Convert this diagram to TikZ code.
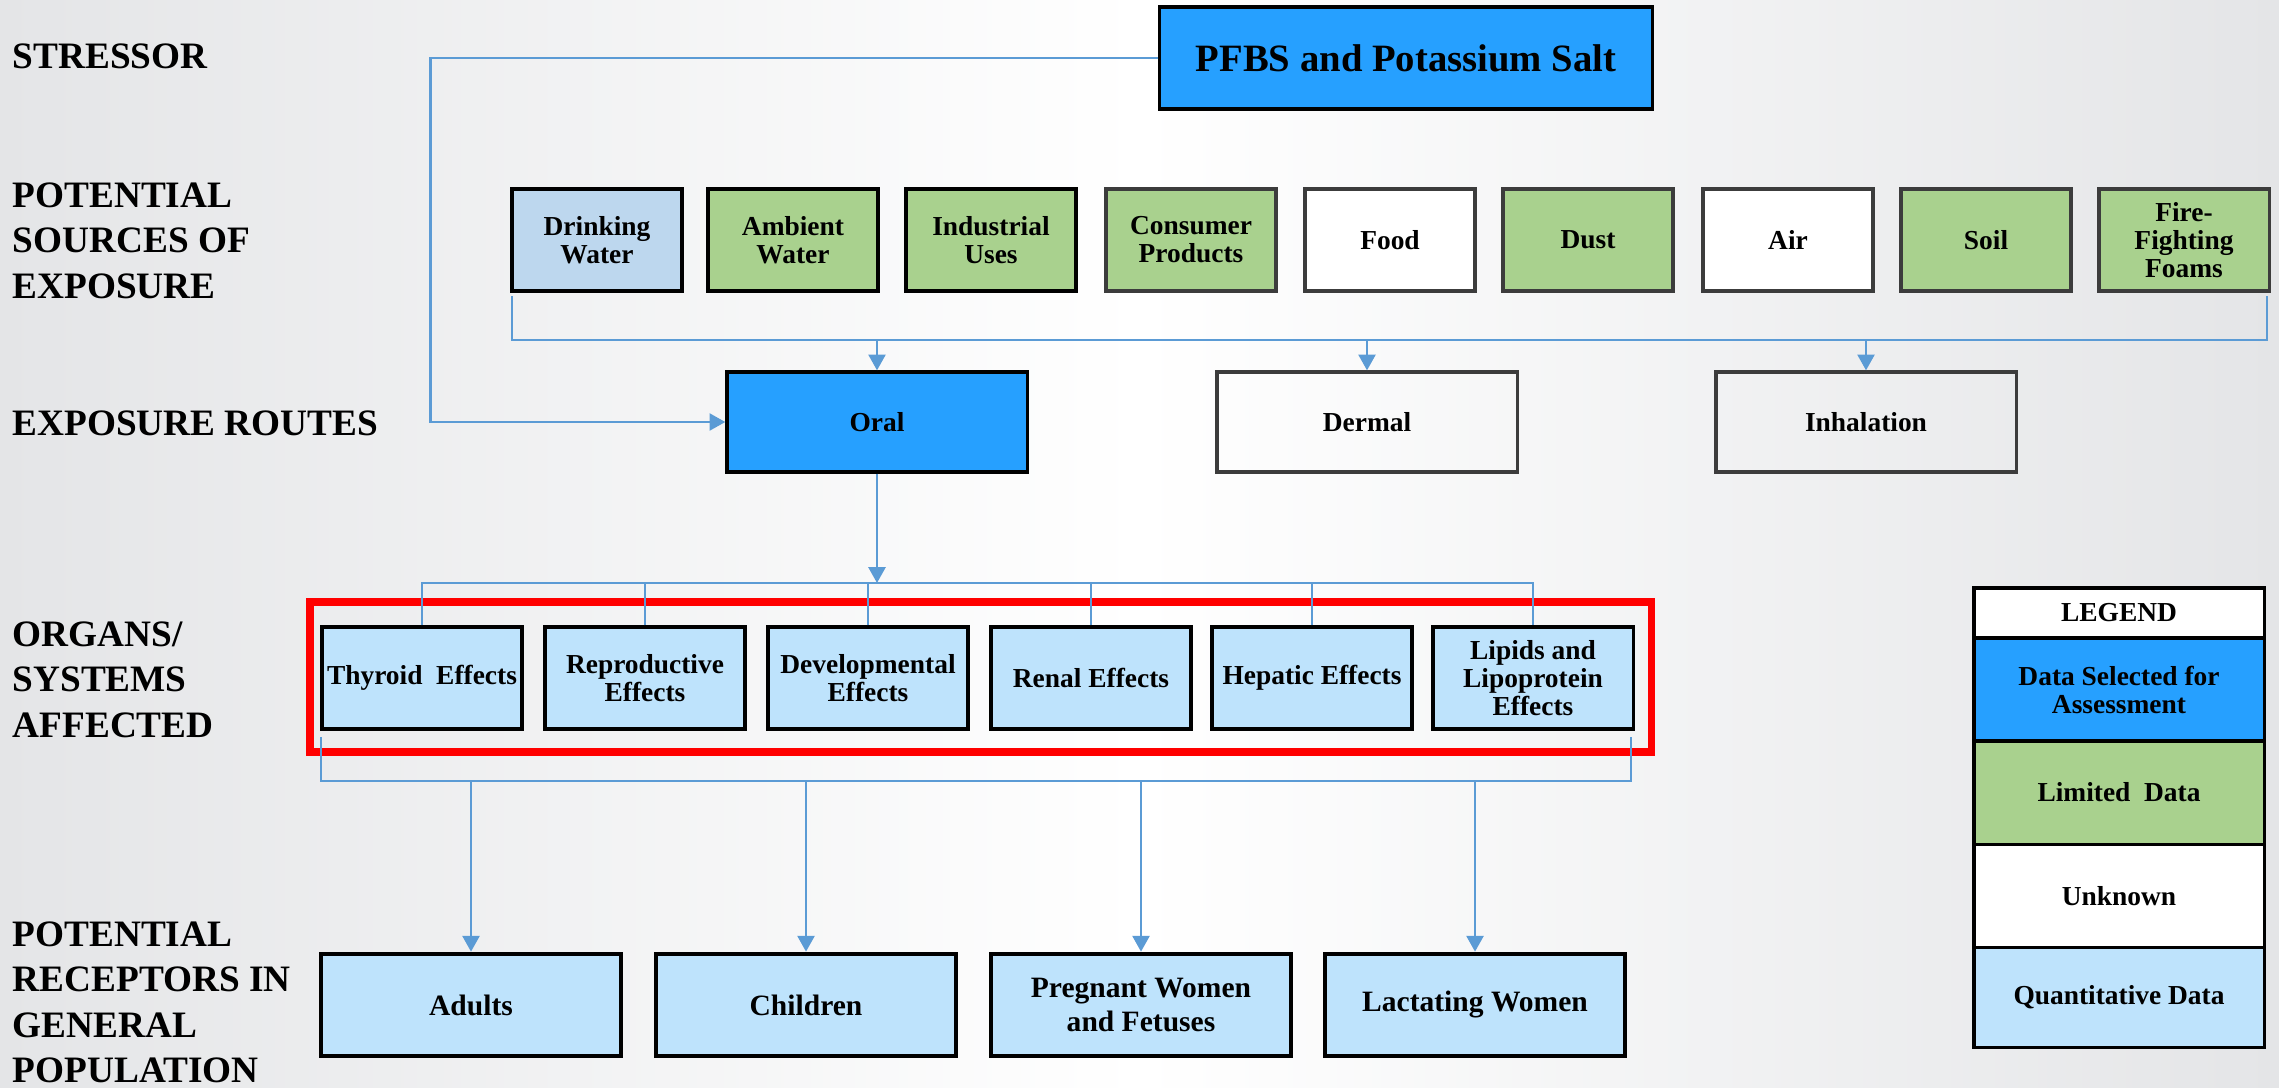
\documentclass[tikz,border=0pt]{standalone}
\usepackage{fontspec}
\setmainfont{Liberation Serif}
\usetikzlibrary{arrows.meta,positioning}
\definecolor{selblue}{RGB}{38,160,255}
\definecolor{limgreen}{RGB}{169,209,142}
\definecolor{dwblue}{RGB}{189,215,238}
\definecolor{qblue}{RGB}{190,227,252}
\definecolor{linkblue}{RGB}{91,155,213}
\definecolor{bgedge}{RGB}{228,229,231}
\definecolor{boxgray}{RGB}{60,60,60}
\newcommand{\boxfont}{\fontsize{7.8}{8}\selectfont\bfseries}

\begin{document}
\begin{tikzpicture}[x=0.01cm, y=-0.01cm,
    box/.style={draw=boxgray, line width=0.9pt, align=center, inner sep=1pt,
      font=\boxfont, minimum height=1.02cm},
    src/.style={box, minimum width=1.70cm},
    route/.style={box, minimum width=3.0cm, minimum height=1.0cm},
    organ/.style={box, draw=black, fill=qblue, minimum width=2.0cm},
    recep/.style={box, draw=black, line width=1.3pt, fill=qblue, minimum width=3.0cm,
      font=\fontsize{8.4}{9.4}\selectfont\bfseries},
    leg/.style={box, draw=black, outer sep=0pt, minimum width=2.9cm, minimum height=1.03cm},
    lab/.style={anchor=base west, align=left, inner sep=0pt,
      font=\fontsize{10.6}{12.8}\selectfont\bfseries},
    link/.style={draw=linkblue, line width=0.8pt},
    arr/.style={-{Triangle[length=4.5pt,width=4.8pt]}}]
    % slide background
    \shade[left color=bgedge, right color=bgedge, middle color=white] (0,0) rectangle (2279,1088);

    % row labels (placed at the baseline of their last line)
    \node[lab] (lstress) at (12,69) {STRESSOR};
    \node[lab] (lsource) at (12,298) {POTENTIAL\\SOURCES OF\\EXPOSURE};
    \node[lab] (lroute) at (12,435) {EXPOSURE ROUTES};
    \node[lab] (lorgan) at (12,737) {ORGANS/\\SYSTEMS\\AFFECTED};
    \node[lab] (lrecep) at (12,1082) {POTENTIAL\\RECEPTORS IN\\GENERAL\\POPULATION};

    % stressor
    \node[box, draw=black, fill=selblue, minimum width=4.92cm,
      font=\fontsize{11}{13}\selectfont\bfseries] (pfbs) at (1406,58) {PFBS and Potassium Salt};

    % sources of exposure
    \node[src, draw=black, fill=dwblue] (drink) at (597,240) {Drinking\\Water};
    \node[src, draw=black, fill=limgreen] (ambient) at (793,240) {Ambient\\Water};
    \node[src, draw=black, fill=limgreen] (industry) at (991,240) {Industrial\\Uses};
    \node[src, fill=limgreen] (consumer) at (1191,240) {Consumer\\Products};
    \node[src, fill=white] (food) at (1390,240) {Food};
    \node[src, fill=limgreen] (dust) at (1588,240) {Dust};
    \node[src, fill=white] (air) at (1788,240) {Air};
    \node[src, fill=limgreen] (soil) at (1986,240) {Soil};
    \node[src, fill=limgreen] (foam) at (2184,240) {Fire-\\Fighting\\Foams};

    % exposure routes
    \node[route, draw=black, fill=selblue] (oral) at (877,422) {Oral};
    \node[route] (dermal) at (1367,422) {Dermal};
    \node[route] (inhal) at (1866,422) {Inhalation};

    % organs / systems
    \draw[red, line width=2pt] (310,602) rectangle (1651,752);
    \node[organ] (thyroid) at (422,678) {Thyroid\ \ Effects};
    \node[organ] (repro) at (645,678) {Reproductive\\Effects};
    \node[organ] (devel) at (868,678) {Developmental\\Effects};
    \node[organ] (renal) at (1091,678) {Renal Effects};
    \node[organ] (hepatic) at (1312,678) {Hepatic Effects};
    \node[organ] (lipid) at (1533,678) {Lipids and\\Lipoprotein\\Effects};

    % receptors
    \node[recep] (adults) at (471,1005) {Adults};
    \node[recep] (children) at (806,1005) {Children};
    \node[recep] (pregnant) at (1141,1005) {Pregnant Women\\and Fetuses};
    \node[recep] (lactating) at (1475,1005) {Lactating Women};

    % stressor to oral route
    \draw[link, arr] (pfbs.west) -- ++(-728,0) |- (oral.west);

    % sources bracket and routes
    \coordinate (sbl) at (512,296);
    \coordinate (sbr) at (2267,296);
    \coordinate (sbus) at (0,340);
    \draw[link] (sbl) -- (sbl |- sbus) -- (sbr |- sbus) -- (sbr);
    \foreach \r in {oral,dermal,inhal}
      \draw[link, arr] (\r.north |- sbus) -- (\r.north);

    % oral to organs
    \coordinate (obus) at (0,583);
    \draw[link, arr] (oral.south) -- (oral.south |- obus);
    \draw[link] (thyroid.north) -- (thyroid.north |- obus) -- (lipid.north |- obus) -- (lipid.north);
    \foreach \o in {repro,devel,renal,hepatic}
      \draw[link] (\o.north) -- (\o.north |- obus);

    % organs to receptors
    \coordinate (rbl) at (321,737);
    \coordinate (rbr) at (1631,737);
    \coordinate (rbus) at (0,781);
    \draw[link] (rbl) -- (rbl |- rbus) -- (rbr |- rbus) -- (rbr);
    \foreach \p in {adults,children,pregnant,lactating}
      \draw[link, arr] (\p.north |- rbus) -- (\p.north);

    % legend
    \node[leg, fill=white, minimum height=0.5cm] (leghead) at (2119,613) {LEGEND};
    \node[leg, fill=selblue, below=0pt of leghead] (legsel) {Data Selected for\\Assessment};
    \node[leg, fill=limgreen, below=0pt of legsel] (leglim) {Limited\ \ Data};
    \node[leg, fill=white, below=0pt of leglim] (legunk) {Unknown};
    \node[leg, fill=qblue, below=0pt of legunk, minimum height=1.0cm] (legquant) {Quantitative Data};
\end{tikzpicture}
\end{document}
